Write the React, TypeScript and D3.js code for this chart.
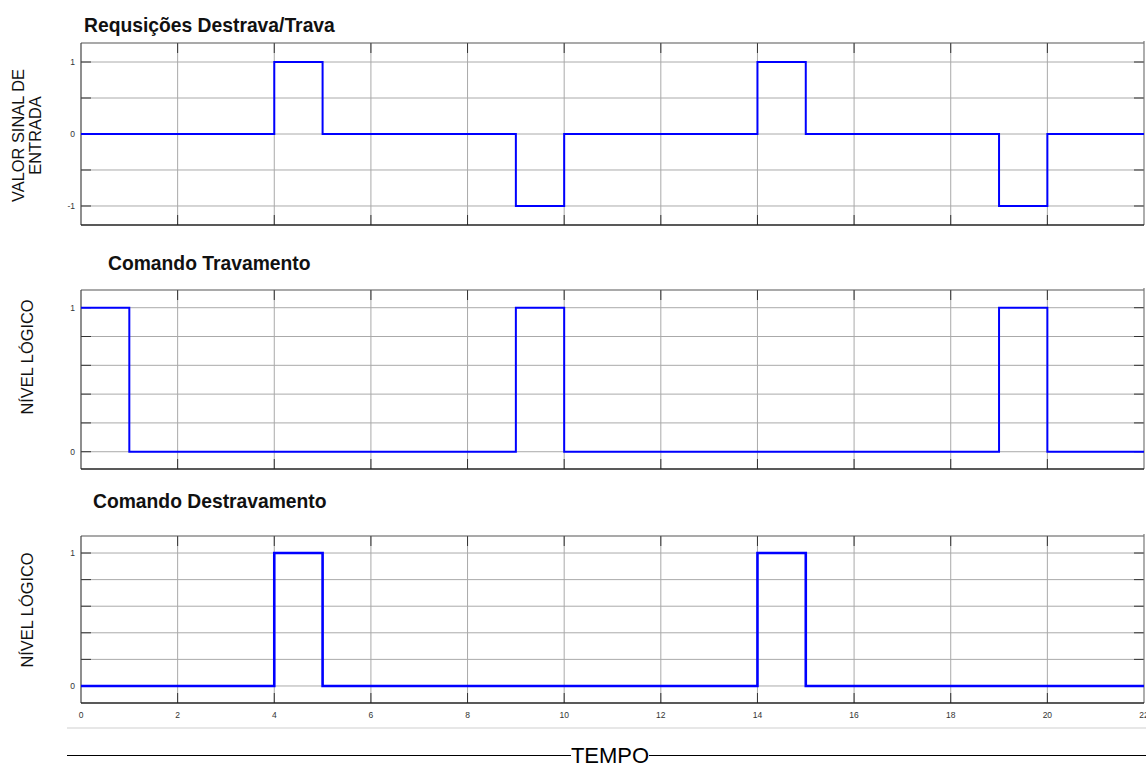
import React from "react";
import * as d3 from "d3";

const xDomain = [0, 22];
const xTickValues = [0, 2, 4, 6, 8, 10, 12, 14, 16, 18, 20, 22];

const reqTimes = [0, 4, 5, 9, 10, 14, 15, 19, 20, 22];
const reqValues = [0, 1, 0, -1, 0, 1, 0, -1, 0, 0];

const travTimes = [0, 1, 9, 10, 19, 20, 22];
const travValues = [1, 0, 1, 0, 1, 0, 0];

const destTimes = [0, 4, 5, 14, 15, 22];
const destValues = [0, 1, 0, 1, 0, 0];

const reqGrid = [-1, -0.5, 0, 0.5, 1];
const reqLabels = [-1, 0, 1];
const logicGrid = [0, 0.2, 0.4, 0.6, 0.8, 1];
const logicLabels = [0, 1];

const titles = ["Requsições Destrava/Trava", "Comando Travamento", "Comando Destravamento"];

type PanelProps = {
  top: number;
  bottom: number;
  yDomain: [number, number];
  times: number[];
  values: number[];
  grid: number[];
  labels: number[];
  title: string;
  titleX: number;
  titleY: number;
  yLabel: string[];
  yLabelX: number;
  yLabelY: number;
  showX: boolean;
  lineWidth: number;
};

const LEFT = 81;
const RIGHT = 1144;

function Panel(p: PanelProps) {
  const x = d3.scaleLinear().domain(xDomain).range([LEFT, RIGHT]);
  const y = d3.scaleLinear().domain(p.yDomain).range([p.bottom, p.top]);
  const pts = p.times.map((t, i) => [t, p.values[i]] as [number, number]);
  const line = d3
    .line<[number, number]>()
    .x((d) => x(d[0]))
    .y((d) => y(d[1]))
    .curve(d3.curveStepAfter);
  const tickLen = 10;
  return (
    <g>
      <text x={p.titleX} y={p.titleY} fontFamily="Liberation Sans, Arial, sans-serif" fontWeight="bold" fontSize={19.3} fill="#111">
        {p.title}
      </text>
      {p.grid.map((g) => (
        <line key={"h" + g} x1={LEFT} x2={RIGHT} y1={y(g)} y2={y(g)} stroke="#aaaaaa" strokeWidth={1} />
      ))}
      {xTickValues.slice(1, -1).map((t) => (
        <line key={"v" + t} x1={x(t)} x2={x(t)} y1={p.top} y2={p.bottom} stroke="#aaaaaa" strokeWidth={1} />
      ))}
      {xTickValues.slice(1, -1).map((t) => (
        <g key={"tm" + t}>
          <line x1={x(t)} x2={x(t)} y1={p.top} y2={p.top + tickLen} stroke="#333" strokeWidth={1} />
          <line x1={x(t)} x2={x(t)} y1={p.bottom} y2={p.bottom - tickLen} stroke="#333" strokeWidth={1} />
        </g>
      ))}
      {p.grid.map((g) => (
        <g key={"ty" + g}>
          <line x1={LEFT} x2={LEFT + tickLen} y1={y(g)} y2={y(g)} stroke="#333" strokeWidth={1} />
          <line x1={RIGHT} x2={RIGHT - tickLen} y1={y(g)} y2={y(g)} stroke="#333" strokeWidth={1} />
        </g>
      ))}
      <line x1={LEFT} x2={RIGHT} y1={p.top} y2={p.top} stroke="#555" strokeWidth={1.2} />
      <line x1={LEFT} x2={LEFT} y1={p.top} y2={p.bottom} stroke="#444" strokeWidth={1.2} />
      <line x1={RIGHT} x2={RIGHT} y1={p.top - 2} y2={p.bottom} stroke="#777" strokeWidth={1.2} />
      <line x1={LEFT} x2={RIGHT} y1={p.bottom} y2={p.bottom} stroke="#222" strokeWidth={1.6} />
      {p.labels.map((v) => (
        <text key={"yl" + v} x={LEFT - 6} y={y(v) + 3} textAnchor="end" fontFamily="Liberation Sans, Arial, sans-serif" fontSize={8.5} fill="#333">
          {String(v)}
        </text>
      ))}
      {p.showX &&
        xTickValues.map((t) => (
          <text key={"xl" + t} x={x(t)} y={p.bottom + 15} textAnchor="middle" fontFamily="Liberation Sans, Arial, sans-serif" fontSize={8.5} fill="#333">
            {String(t)}
          </text>
        ))}
      <text
        transform={`translate(${p.yLabelX},${p.yLabelY}) rotate(-90)`}
        textAnchor="middle"
        fontFamily="Liberation Sans, Arial, sans-serif"
        fontSize={16.4}
        fill="#111"
      >
        {p.yLabel.map((s, i) => (
          <tspan key={i} x={0} dy={i === 0 ? (p.yLabel.length > 1 ? -3 : 6) : 17}>
            {s}
          </tspan>
        ))}
      </text>
      <path d={line(pts) || ""} fill="none" stroke="#0000ff" strokeWidth={p.lineWidth} />
    </g>
  );
}

export default function App() {
  return (
    <svg width={1146} height={764} style={{ position: "absolute", left: 0, top: 0, background: "#fff" }}>
      <rect x={0} y={0} width={1146} height={764} fill="#fff" />
      <Panel
        top={43}
        bottom={225}
        yDomain={[-1.264, 1.264]}
        times={reqTimes}
        values={reqValues}
        grid={reqGrid}
        labels={reqLabels}
        title={titles[0]}
        titleX={84}
        titleY={32}
        yLabel={["VALOR SINAL DE", "ENTRADA"]}
        yLabelX={27}
        yLabelY={135.5}
        showX={false}
        lineWidth={2}
      />
      <Panel
        top={290}
        bottom={469}
        yDomain={[-0.12, 1.123]}
        times={travTimes}
        values={travValues}
        grid={logicGrid}
        labels={logicLabels}
        title={titles[1]}
        titleX={108}
        titleY={270}
        yLabel={["NÍVEL LÓGICO"]}
        yLabelX={27}
        yLabelY={357}
        showX={false}
        lineWidth={2}
      />
      <Panel
        top={536}
        bottom={703}
        yDomain={[-0.128, 1.128]}
        times={destTimes}
        values={destValues}
        grid={logicGrid}
        labels={logicLabels}
        title={titles[2]}
        titleX={93}
        titleY={508}
        yLabel={["NÍVEL LÓGICO"]}
        yLabelX={27}
        yLabelY={610}
        showX={true}
        lineWidth={2.6}
      />
      <line x1={67} x2={1146} y1={728} y2={728} stroke="#d0d0d0" strokeWidth={1.2} />
      <line x1={67} x2={571} y1={755.5} y2={755.5} stroke="#000" strokeWidth={1.2} />
      <line x1={649} x2={1146} y1={755.5} y2={755.5} stroke="#000" strokeWidth={1.2} />
      <text x={610} y={763} textAnchor="middle" fontFamily="Liberation Sans, Arial, sans-serif" fontSize={22} fill="#000">
        TEMPO
      </text>
    </svg>
  );
}
